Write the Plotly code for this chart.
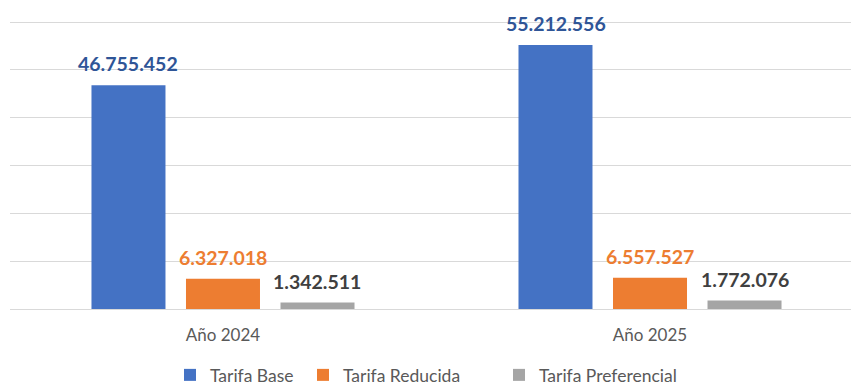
import plotly.graph_objects as go

# Recaudación por tipo de tarifa
years = ["Año 2024", "Año 2025"]
series_names = ["Tarifa Base", "Tarifa Reducida", "Tarifa Preferencial"]
tarifa_base = [46755452, 55212556]
tarifa_reducida = [6327018, 6557527]
tarifa_preferencial = [1342511, 1772076]

bar_colors = ["#4472C4", "#ED7D31", "#A5A5A5"]
label_colors = ["#2F5597", "#ED7D31", "#404040"]
legend_ids = ["legend", "legend2", "legend3"]
legend_x_px = [170, 303, 499]

W, H = 851, 385
FONT = "Lato"
MT, MB = 20, 74
plot_h = H - MT - MB

fig = go.Figure()
all_values = [tarifa_base, tarifa_reducida, tarifa_preferencial]
for name, vals, color, leg in zip(series_names, all_values, bar_colors, legend_ids):
    fig.add_trace(go.Bar(
        x=years, y=vals, name=name,
        marker=dict(color=color, line=dict(width=0)),
        legend=leg,
        hoverinfo="x+y+name",
    ))

# value labels above each bar, offset to each bar's slot inside the group
slot_px = 94.5
for i, (vals, lc) in enumerate(zip(all_values, label_colors)):
    for yr, v in zip(years, vals):
        fig.add_annotation(
            x=yr, y=v, text=f"{v:,}".replace(",", "."),
            xshift=(i - 1) * slot_px, yshift=8,
            yanchor="bottom", showarrow=False,
            font=dict(family=FONT, size=19.5, color=lc, weight="bold"),
        )

# legend row centred at y = 375 px
legend_common = dict(
    orientation="h", xref="container", yref="paper",
    yanchor="middle", y=-(375 - (H - MB)) / plot_h, xanchor="left",
    font=dict(family=FONT, size=17.5, color="#595959"),
    bgcolor="rgba(0,0,0,0)", itemwidth=30, traceorder="normal",
)
legends = {}
for leg, px in zip(legend_ids, legend_x_px):
    legends[leg] = dict(legend_common, x=px / W)

# pad the value range slightly so the 0 and 60M gridlines stay inside the plot
pad = 418000

fig.update_layout(
    width=W, height=H,
    margin=dict(l=10, r=0, t=MT, b=MB, autoexpand=False),
    plot_bgcolor="white", paper_bgcolor="white",
    barmode="group", bargap=0.336, bargroupgap=0.217,
    separators=",.",
    showlegend=True,
    **legends,
    xaxis=dict(
        range=[-0.4988, 1.4707], showgrid=False, zeroline=False,
        showline=False, ticks="",
        tickfont=dict(family=FONT, size=17, color="#595959"),
        ticklabelstandoff=12,
    ),
    yaxis=dict(
        range=[-pad, 60000000 + pad], tick0=0, dtick=10000000,
        showticklabels=False,
        showgrid=True, gridcolor="#D9D9D9", gridwidth=1.3,
        zeroline=False, showline=False, ticks="",
    ),
)

fig.write_html("out.html")
